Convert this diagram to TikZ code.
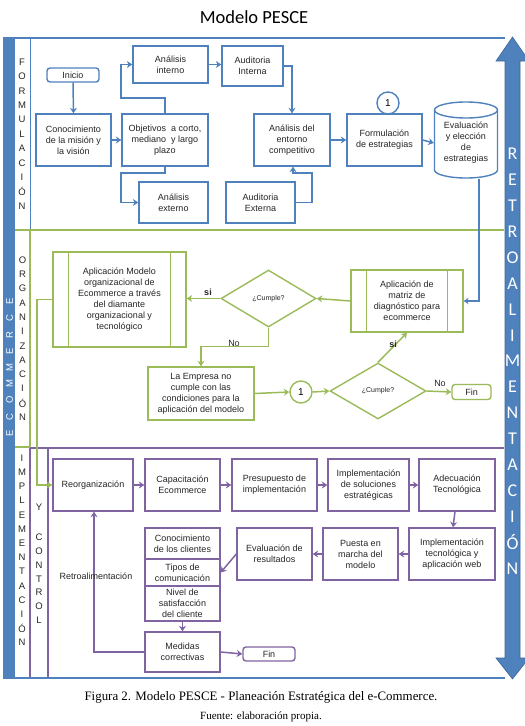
\documentclass[tikz,border=0pt]{standalone}
\usepackage{fontspec}
\setmainfont{Liberation Sans}
\newfontfamily\carl{Carlito}
\newfontfamily\capfont{Liberation Serif}
\usetikzlibrary{arrows.meta,shapes.geometric,calc}
\definecolor{cblue}{HTML}{4F81BD}
\definecolor{cgreen}{HTML}{9BBB59}
\definecolor{cpurple}{HTML}{8064A2}
\tikzset{
  box/.style={draw, line width=1.4pt, fill=white, align=center, inner sep=1pt,
    font=\fontsize{9}{11}\selectfont, text=black!85},
  bbox/.style={box, draw=cblue},
  gbox/.style={box, draw=cgreen},
  pbox/.style={box, draw=cpurple},
  rbox/.style={rounded corners=3pt},
  dia/.style={diamond, draw=cgreen, line width=1.4pt, fill=white, inner sep=0pt,
    font=\fontsize{7}{8}\selectfont, text=black!85},
  circ/.style={circle, line width=1.4pt, fill=white, inner sep=0pt, minimum size=22pt,
    font=\fontsize{10}{12}\selectfont},
  subp/.style={path picture={\draw[line width=1.4pt, draw=cgreen]
    ([xshift=15.5pt]path picture bounding box.north west) -- ([xshift=15.5pt]path picture bounding box.south west)
    ([xshift=-15.5pt]path picture bounding box.north east) -- ([xshift=-15.5pt]path picture bounding box.south east);}},
  tipstyle/.style={-{Stealth[length=5.5pt,width=7pt,inset=1.8pt]}},
  barr/.style={tipstyle, draw=cblue, line width=1.5pt},
  garr/.style={tipstyle, draw=cgreen, line width=1.5pt},
  parr/.style={tipstyle, draw=cpurple, line width=1.5pt},
  lbl/.style={font=\fontsize{9}{11}\selectfont, text=black!85, inner sep=0pt},
  colletter/.style={font=\fontsize{9.5}{10}\selectfont, text=black!85, inner sep=0pt},
}
\begin{document}
\begin{tikzpicture}[x=1pt,y=-1pt]
\useasboundingbox (0,0) rectangle (525,726);

% title
\node[font=\carl\fontsize{18.5}{20}\selectfont] (title) at (254,17) {Modelo PESCE};

% frame
\fill[cblue] (3,38) rectangle (15,678);
\draw[cblue, line width=1.5pt] (3,38) -- (505,38);
\draw[cblue, line width=1.5pt] (3,678) -- (505,678);
\draw[cblue, line width=1pt] (30,38) -- (30,230);
\draw[cgreen, line width=1.5pt] (15,230) -- (504,230) (30,230) -- (30,447) (15,447) -- (30,447);
\draw[cpurple, line width=1.5pt] (30,448) -- (504,448) (30,448) -- (30,677) (48,448) -- (48,677);

% right double arrow
\filldraw[fill=cblue, draw=cblue!80!black, line width=0.6pt]
  (512.5,37) -- (529,61) -- (520,61) -- (520,658) -- (529,658) -- (512.5,679)
  -- (496,658) -- (505,658) -- (505,61) -- (496,61) -- cycle;
\foreach \l [count=\i from 0] in {R,E,T,R,O,A,L,I,M,E,N,T,A,C,I,Ó,N}
  \node[font=\carl\fontsize{18}{18}\selectfont, text=white, inner sep=0pt] (ret\i) at (512.5,154+25.9*\i) {\l};

% left bar letters
\foreach \l [count=\i from 0] in {E,C,O,M,M,E,R,C,E}
  \node[font=\fontsize{9.5}{10}\selectfont, text=white, rotate=90, inner sep=0pt] (eco\i) at (9.5,433-16.4*\i) {\l};

% section letters
\foreach \l [count=\i from 0] in {F,O,R,M,U,L,A,C,I,Ó,N}
  \node[colletter] (fo\i) at (22,62+14.4*\i) {\l};
\foreach \l [count=\i from 0] in {O,R,G,A,N,I,Z,A,C,I,Ó,N}
  \node[colletter] (or\i) at (22.5,260+14.3*\i) {\l};
\foreach \l [count=\i from 0] in {I,M,P,L,E,M,E,N,T,A,C,I,Ó,N}
  \node[colletter] (im\i) at (22,458+14.2*\i) {\l};
\foreach \l/\y [count=\i] in {Y/507,C/537,O/551,N/565,T/579,R/592,O/606,L/620}
  \node[colletter] (yc\i) at (39,\y) {\l};

% ---------- FORMULACION ----------
\node[bbox, rbox, minimum width=52pt, minimum height=14pt] (ini) at (73,75) {Inicio};
\node[bbox, minimum width=75pt, minimum height=52pt] (con) at (73.5,140) {Conocimiento\\de la misión y\\la visión};
\node[bbox, minimum width=86pt, minimum height=52pt] (obj) at (165,140) {Objetivos\ \ a corto,\\mediano\ \ y largo\\plazo};
\node[bbox, minimum width=75pt, minimum height=37pt] (ain) at (170.5,64.5) {Análisis\\interno};
\node[bbox, minimum width=61pt, minimum height=40pt] (aui) at (252.5,66) {Auditoria\\Interna};
\node[bbox, minimum width=76pt, minimum height=52pt] (aen) at (292,140) {Análisis del\\entorno\\competitivo};
\node[bbox, minimum width=75pt, minimum height=52pt] (for) at (384.5,140) {Formulación\\de estrategias};
\node[circ, draw=cblue] (c1) at (388,103) {1};
\node[bbox, minimum width=69pt, minimum height=41pt] (aex) at (173.5,202.5) {Análisis\\externo};
\node[bbox, minimum width=69pt, minimum height=41pt] (auex) at (260.5,202.5) {Auditoria\\Externa};
% cylinder
\filldraw[draw=cblue, fill=white, line width=1.4pt]
  (434.5,110) -- (434.5,170) arc[start angle=180, end angle=0, x radius=31.5, y radius=8]
  -- (497.5,110) arc[start angle=0, end angle=-180, x radius=31.5, y radius=8] -- cycle;
\draw[draw=cblue, line width=1.4pt] (434.5,110) arc[start angle=180, end angle=0, x radius=31.5, y radius=8];
\node[box, draw=none, fill=none, minimum width=63pt, minimum height=70pt] (eva) at (466,143) {Evaluación\\y elección\\de\\estrategias};

\draw[barr] (ini.south) -- (con.north);
\draw[barr] (con.east) -- (obj.west);
\draw[barr] (obj.north) -- (165,98) -- (121,98) |- (ain.west);
\draw[barr] (obj.south) -- (165,173) -- (121,173) |- (aex.west);
\draw[barr] (ain.east) -- (ain.east -| aui.west);
\draw[barr] (aui.east) -| (aen.north);
\draw[barr] (auex.east) -- (312,202.5) -- (312,173) -- (293,173) -- ([xshift=1pt]aen.south);
\draw[barr] (aen.east) -- (for.west);
\draw[barr] (for.east) -- (eva.west);

% ---------- ORGANIZACION ----------
\node[gbox, subp, minimum width=133pt, minimum height=95pt] (apm) at (119.5,299.5)
  {Aplicación Modelo\\organizacional de\\Ecommerce a través\\del diamante\\organizacional y\\tecnológico};
\node[dia, minimum width=95pt, minimum height=57pt] (d1) at (268.5,298.5) {¿Cumple?};
\node[gbox, subp, minimum width=112pt, minimum height=62pt] (mat) at (407,301)
  {Aplicación de\\matriz de\\diagnóstico para\\ecommerce};
\node[gbox, minimum width=106pt, minimum height=53pt] (emp) at (201,393.5)
  {La Empresa no\\cumple con las\\condiciones para la\\aplicación del modelo};
\node[circ, draw=cgreen] (c2) at (301,392) {1};
\node[dia, minimum width=96pt, minimum height=56pt] (d2) at (378,391) {¿Cumple?};
\node[gbox, rbox, minimum width=39pt, minimum height=15pt] (fin1) at (471.5,392) {Fin};

% ---------- IMPLEMENTACION ----------
\node[pbox, minimum width=80pt, minimum height=52pt] (reo) at (93,485) {Reorganización};
\node[pbox, minimum width=75pt, minimum height=52pt] (cap) at (182.5,485) {Capacitación\\Ecommerce};
\node[pbox, minimum width=85pt, minimum height=52pt] (pre) at (274.5,485) {Presupuesto de\\implementación};
\node[pbox, minimum width=81pt, minimum height=52pt] (ims) at (368.5,485) {Implementación\\de soluciones\\estratégicas};
\node[pbox, minimum width=76pt, minimum height=52pt] (ade) at (457,485) {Adecuación\\Tecnológica};
\node[pbox, minimum width=86pt, minimum height=52pt] (imt) at (452,554) {Implementación\\tecnológica y\\aplicación web};
\node[pbox, minimum width=75pt, minimum height=52pt] (pue) at (360.5,554) {Puesta en\\marcha del\\modelo};
\node[pbox, minimum width=75pt, minimum height=52pt] (evr) at (274.5,554) {Evaluación de\\resultados};
\node[pbox, minimum width=75pt, minimum height=31pt] (cono) at (182.5,543.5) {Conocimiento\\de los clientes};
\node[pbox, minimum width=75pt, minimum height=27pt] (tip) at (182.5,572.5) {Tipos de\\comunicación};
\node[pbox, minimum width=75pt, minimum height=35pt] (niv) at (182.5,603.5) {Nivel de\\satisfacción\\del cliente};
\node[pbox, minimum width=75pt, minimum height=40pt] (med) at (182.5,652) {Medidas\\correctivas};
\node[pbox, rbox, minimum width=52pt, minimum height=14pt] (fin2) at (269,654) {Fin};

% organizacion connectors
\draw[cblue, line width=1.2pt, -{Stealth[length=5pt,width=6.5pt,inset=1.8pt]}] ([xshift=13pt]eva.south) |- (mat.east);
\draw[garr] (mat.west) -- (d1.east);
\draw[garr] (d1.west) -- (d1.west -| apm.east);
\node[lbl, font=\bfseries\fontsize{9}{11}\selectfont] (si1) at (208,292) {si};
\draw[garr] (d1.south) -- ++(0,19) -| (emp.north);
\node[lbl] (no1) at (234,343) {No};
\draw[garr] (emp.east) -- (c2.west);
\draw[garr] (c2.east) -- (d2.west);
\draw[garr] (d2.north) -- (mat.south);
\node[lbl, font=\bfseries\fontsize{9}{11}\selectfont] (si2) at (393,344) {si};
\draw[garr] (d2.east) -- (fin1.west);
\node[lbl] (no2) at (440,383) {No};
\draw[garr] (apm.west) -- (37,299.5) |- (reo.west);

% implementacion connectors
\draw[parr] (reo.east) -- (cap.west);
\draw[parr] (cap.east) -- (pre.west);
\draw[parr] (pre.east) -- (ims.west);
\draw[parr] (ims.east) -- (ade.west);
\draw[parr] ([xshift=-2pt]ade.south) -- ([xshift=1pt]imt.north);
\draw[parr] (imt.west) -- (pue.east);
\draw[parr] (pue.west) -- (evr.east);
\draw[parr] (evr.west) -- (tip.east);
\draw[parr] (niv.south) -- (med.north);
\draw[parr] (med.east) -- (fin2.west);
\draw[parr] (med.west) -| ([xshift=1pt]reo.south);
\node[lbl] (retro) at (96,576) {Retroalimentación};

% caption
\node[font=\capfont\fontsize{12.9}{14}\selectfont, inner sep=0pt] (cap1) at (261,697)
  {Figura 2. Modelo PESCE - Planeación Estratégica del e-Commerce.};
\node[font=\capfont\fontsize{11}{12}\selectfont, inner sep=0pt] (cap2) at (261,717)
  {Fuente: elaboración propia.};
\end{tikzpicture}
\end{document}
